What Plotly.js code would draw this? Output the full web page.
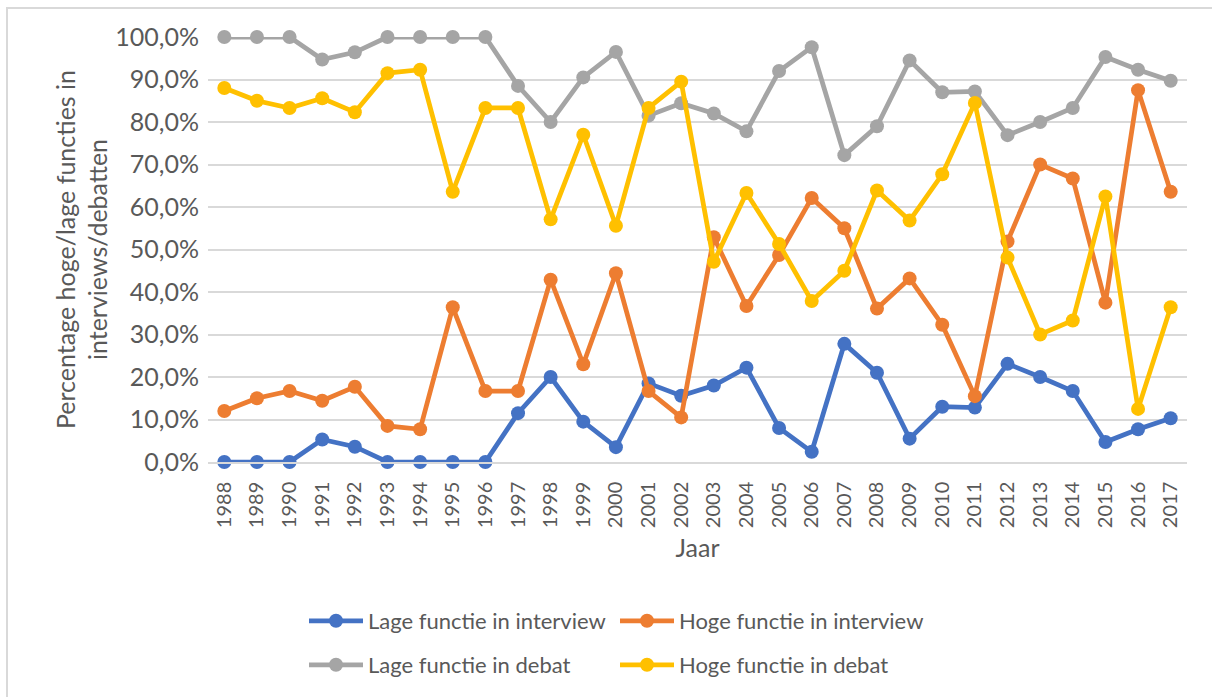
<!DOCTYPE html>
<html>
<head>
<meta charset="utf-8">
<script src="https://cdn.plot.ly/plotly-3.0.1.min.js"></script>
<style>
  html, body { margin: 0; padding: 0; background: #ffffff; }
  #chart { width: 1212px; height: 697px; }
</style>
</head>
<body>
<div id="chart"></div>
<script>
// Categories (years)
var years = ['1988','1989','1990','1991','1992','1993','1994','1995','1996','1997',
             '1998','1999','2000','2001','2002','2003','2004','2005','2006','2007',
             '2008','2009','2010','2011','2012','2013','2014','2015','2016','2017'];

// Series values (percent)
var lageInterview = [0, 0, 0, 5.3, 3.6, 0, 0, 0, 0, 11.5,
                     20.0, 9.5, 3.5, 18.5, 15.6, 18.0, 22.2, 8.0, 2.4, 27.8,
                     21.0, 5.5, 13.0, 12.8, 23.1, 20.0, 16.7, 4.7, 7.7, 10.3];
var hogeInterview = [12.0, 15.0, 16.7, 14.4, 17.7, 8.5, 7.7, 36.4, 16.7, 16.7,
                     42.9, 23.0, 44.4, 16.7, 10.5, 52.9, 36.7, 48.7, 62.1, 55.0,
                     36.1, 43.2, 32.3, 15.5, 51.9, 70.0, 66.7, 37.5, 87.5, 63.6];
var lageDebat     = [100, 100, 100, 94.7, 96.4, 100, 100, 100, 100, 88.5,
                     80.0, 90.5, 96.5, 81.5, 84.4, 82.0, 77.8, 92.0, 97.6, 72.2,
                     79.0, 94.5, 87.0, 87.2, 76.9, 80.0, 83.3, 95.3, 92.3, 89.7];
var hogeDebat     = [88.0, 85.0, 83.3, 85.6, 82.3, 91.5, 92.3, 63.6, 83.3, 83.3,
                     57.1, 77.0, 55.6, 83.3, 89.5, 47.1, 63.3, 51.3, 37.9, 45.0,
                     63.9, 56.8, 67.7, 84.5, 48.1, 30.0, 33.3, 62.5, 12.5, 36.4];

// Y tick values and labels
var yTickVals  = [0, 10, 20, 30, 40, 50, 60, 70, 80, 90, 100];
var yTickText  = ['0,0%', '10,0%', '20,0%', '30,0%', '40,0%', '50,0%',
                  '60,0%', '70,0%', '80,0%', '90,0%', '100,0%'];

var seriesNames  = ['Lage functie in interview', 'Hoge functie in interview',
                    'Lage functie in debat', 'Hoge functie in debat'];
var seriesValues = [lageInterview, hogeInterview, lageDebat, hogeDebat];
var seriesColors = ['#4472C4', '#ED7D31', '#A5A5A5', '#FFC000'];
var seriesLegend = ['legend', 'legend', 'legend2', 'legend2'];

var FONT = 'Lato, "Open Sans", sans-serif';
var TXT = '#595959';

var traces = seriesNames.map(function (name, i) {
  return {
    type: 'scatter',
    mode: 'lines+markers',
    name: name,
    x: years,
    y: seriesValues[i],
    line: { color: seriesColors[i], width: 4.75 },
    marker: { color: seriesColors[i], size: 14, symbol: 'circle' },
    cliponaxis: false,
    legend: seriesLegend[i],
    hoverinfo: 'x+y+name'
  };
});

var W = 1212, H = 697;
var plotL = 208, plotR = 1187, plotT = 37, plotB = 462;

function legendDef(yPix) {
  return {
    orientation: 'h',
    xref: 'container', yref: 'container',
    x: 304 / W, xanchor: 'left',
    y: 1 - yPix / H, yanchor: 'middle',
    itemwidth: 54,
    entrywidth: 242,
    font: { family: FONT, size: 22, color: TXT },
    bgcolor: 'rgba(0,0,0,0)',
    itemclick: false, itemdoubleclick: false
  };
}

var layout = {
  width: W,
  height: H,
  paper_bgcolor: '#ffffff',
  plot_bgcolor: '#ffffff',
  font: { family: FONT, color: TXT, size: 21 },
  margin: { l: plotL, r: W - plotR, t: plotT, b: H - plotB, pad: 0 },
  showlegend: true,
  xaxis: {
    type: 'category',
    range: [-0.5, years.length - 0.5],
    tickangle: -90,
    showgrid: false,
    showline: true,
    linecolor: '#d9d9d9',
    linewidth: 1.5,
    ticks: '',
    ticklabelstandoff: 10,
    tickfont: { family: FONT, size: 20, color: TXT },
    title: { text: 'Jaar', font: { family: FONT, size: 25, color: TXT }, standoff: 12 },
    automargin: false,
    fixedrange: true
  },
  yaxis: {
    range: [0, 100],
    tickvals: yTickVals,
    ticktext: yTickText,
    showgrid: true,
    gridcolor: '#d9d9d9',
    gridwidth: 1.5,
    zeroline: false,
    showline: false,
    ticks: '',
    ticklabelstandoff: 8,
    tickfont: { family: FONT, size: 25, color: TXT },
    title: {
      text: 'Percentage hoge/lage functies in<br>interviews/debatten',
      font: { family: FONT, size: 25, color: TXT },
      standoff: 0
    },
    automargin: false,
    fixedrange: true
  },
  legend: legendDef(621),
  legend2: legendDef(665),
  shapes: [{
    type: 'rect',
    xref: 'paper', yref: 'paper',
    x0: (7 - plotL) / (plotR - plotL),
    x1: (1230 - plotL) / (plotR - plotL),
    y0: (plotB - 720) / (plotB - plotT),
    y1: (plotB - 8) / (plotB - plotT),
    line: { color: '#d9d9d9', width: 2 },
    fillcolor: 'rgba(0,0,0,0)',
    layer: 'below'
  }]
};

Plotly.newPlot('chart', traces, layout, { displayModeBar: false });
</script>
</body>
</html>
